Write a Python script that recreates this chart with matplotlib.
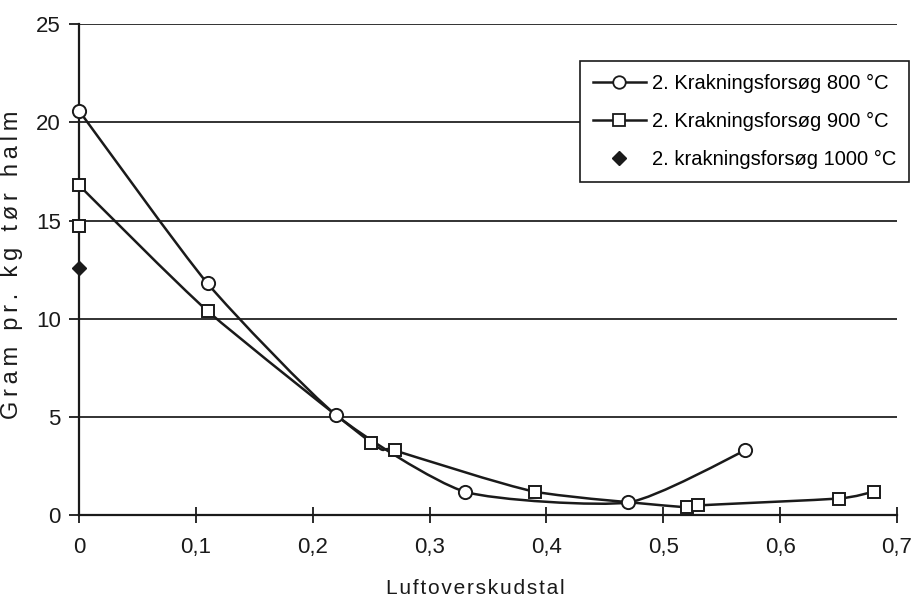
import numpy as np
import matplotlib
matplotlib.use("Agg")
import matplotlib.pyplot as plt
from matplotlib.path import Path
from matplotlib.patches import PathPatch
from matplotlib.lines import Line2D
from matplotlib.ticker import FuncFormatter

# data
x_800 = [0.0, 0.11, 0.22, 0.33, 0.47, 0.57]
y_800 = [20.6, 11.8, 5.1, 1.2, 0.65, 3.3]

x_900 = [0.0, 0.0, 0.11, 0.25, 0.27, 0.39, 0.52, 0.53, 0.65, 0.68]
y_900 = [14.7, 16.8, 10.4, 3.7, 3.3, 1.2, 0.4, 0.5, 0.85, 1.2]

x_1000 = [0.0]
y_1000 = [12.6]

labels = ["2. Krakningsforsøg 800 °C",
          "2. Krakningsforsøg 900 °C",
          "2. krakningsforsøg 1000 °C"]

x_ticks = [0, 0.1, 0.2, 0.3, 0.4, 0.5, 0.6, 0.7]
y_ticks = [0, 5, 10, 15, 20, 25]

plt.rcParams['font.family'] = ['Liberation Sans', 'DejaVu Sans']


def smooth_path(xs, ys, k=0.1):
    """Excel-like smoothed line: cubic Bezier through the points."""
    pts = np.column_stack([xs, ys]).astype(float)
    n = len(pts)
    verts = [pts[0]]
    codes = [Path.MOVETO]
    for i in range(n - 1):
        p0 = pts[i - 1] if i > 0 else pts[i]
        p1 = pts[i]
        p2 = pts[i + 1]
        p3 = pts[i + 2] if i + 2 < n else pts[i + 1]
        c1 = p1 + (p2 - p0) * k
        c2 = p2 - (p3 - p1) * k
        verts += [c1, c2, p2]
        codes += [Path.CURVE4] * 3
    return Path(verts, codes)


def spaced(s, sep='\u200a'):
    return sep.join(s)


fig = plt.figure(figsize=(9.13, 6.04), dpi=100)
ax = fig.add_axes([0.0865, 0.147, 0.896, 0.813])

ax.set_xlim(0, 0.7)
ax.set_ylim(0, 25)

for y in y_ticks[1:]:
    ax.axhline(y, color='#222222', lw=1.3, zorder=1)

# the 900 line starts at the upper of the two x=0 points
for xs, ys in [(x_800, y_800), (x_900[1:], y_900[1:])]:
    ax.add_patch(PathPatch(smooth_path(xs, ys), fill=False, ec='#1a1a1a',
                           lw=1.8, zorder=3, clip_on=False))

ax.plot(x_800, y_800, ls='none', marker='o', ms=9.5, mfc='white',
        mec='#1a1a1a', mew=1.4, zorder=4, clip_on=False)
ax.plot(x_900, y_900, ls='none', marker='s', ms=9, mfc='white',
        mec='#1a1a1a', mew=1.4, zorder=4, clip_on=False)
ax.plot(x_1000, y_1000, ls='none', marker='D', ms=7.5, color='#1a1a1a',
        zorder=4, clip_on=False)

for side in ['top', 'right']:
    ax.spines[side].set_visible(False)
for side in ['left', 'bottom']:
    ax.spines[side].set_linewidth(1.6)
    ax.spines[side].set_color('#1a1a1a')

ax.set_xticks(x_ticks)
ax.set_yticks(y_ticks)
ax.xaxis.set_major_formatter(FuncFormatter(
    lambda v, p: '0' if v == 0 else f'{v:.1f}'.replace('.', ',')))
ax.yaxis.set_major_formatter(FuncFormatter(lambda v, p: f'{v:.0f}'))
ax.tick_params(axis='x', direction='inout', length=12, width=1.3,
               labelsize=16, pad=10, colors='#1a1a1a')
ax.tick_params(axis='y', direction='out', length=7, width=1.3,
               labelsize=16, pad=6, colors='#1a1a1a')

ax.set_xlabel(spaced('Luftoverskudstal'), fontsize=15, color='#1a1a1a')
ax.xaxis.set_label_coords(0.485, -0.13)
ax.set_ylabel(spaced('Gram pr. kg tør halm', '\u2009'), fontsize=17,
              color='#1a1a1a')
ax.yaxis.set_label_coords(-0.068, 0.51)

handles = [
    Line2D([], [], color='#1a1a1a', lw=1.8, marker='o', ms=9, mfc='white', mew=1.3),
    Line2D([], [], color='#1a1a1a', lw=1.8, marker='s', ms=8.5, mfc='white', mew=1.3),
    Line2D([], [], ls='none', color='#1a1a1a', marker='D', ms=7.5),
]
leg = ax.legend(handles, labels, loc='upper right', bbox_to_anchor=(1.027, 0.946),
                fontsize=14.5, frameon=True, fancybox=False, framealpha=1,
                edgecolor='#1a1a1a', handlelength=2.6, handletextpad=0.3,
                borderpad=0.65, labelspacing=0.95)
leg.get_frame().set_linewidth(1.2)
leg.set_zorder(5)

fig.savefig('out.png', dpi=100, facecolor='white')
